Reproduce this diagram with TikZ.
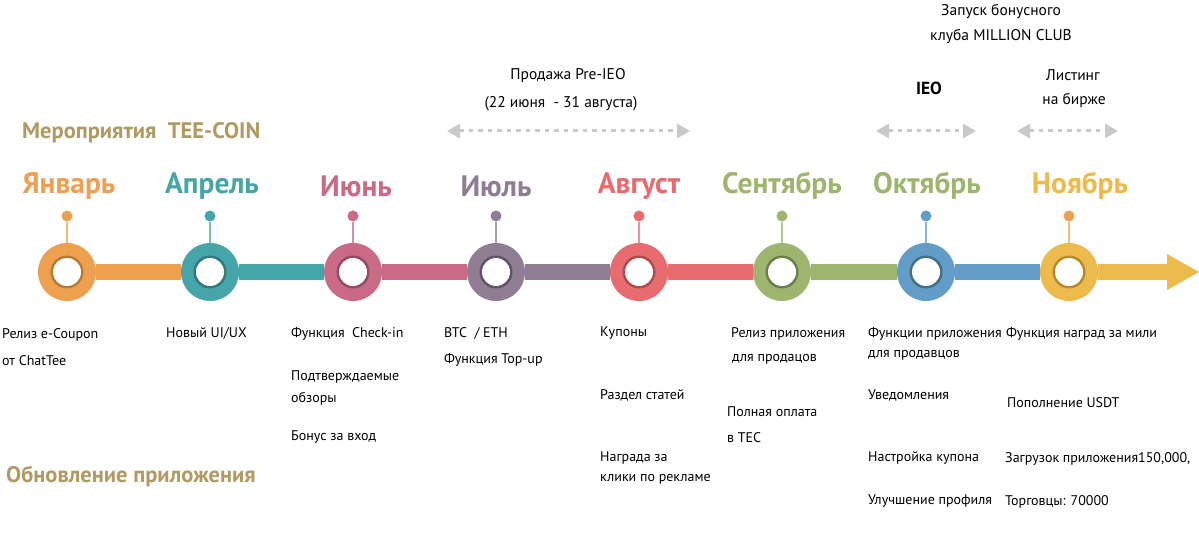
\documentclass[tikz,border=0pt]{standalone}
\usepackage{fontspec}
\setmainfont{PT Sans}
\usetikzlibrary{arrows.meta}
\definecolor{cJan}{HTML}{EDA050}\definecolor{dJan}{HTML}{B87A34}
\definecolor{cApr}{HTML}{45A5A9}\definecolor{dApr}{HTML}{2F7A7E}
\definecolor{cJun}{HTML}{C96A87}\definecolor{dJun}{HTML}{934A62}
\definecolor{cJul}{HTML}{8E7D93}\definecolor{dJul}{HTML}{62536A}
\definecolor{cAug}{HTML}{E86C6F}\definecolor{dAug}{HTML}{AD4A4D}
\definecolor{cSep}{HTML}{9DB56E}\definecolor{dSep}{HTML}{6C7F48}
\definecolor{cOct}{HTML}{629DC7}\definecolor{dOct}{HTML}{3F6F84}
\definecolor{cNov}{HTML}{EDBA4C}\definecolor{dNov}{HTML}{B88A2C}
\definecolor{gold}{HTML}{B19A62}
\definecolor{lgray}{HTML}{C9C9C9}
\tikzset{
  ring/.style 2 args={circle, fill=#1, minimum size=58pt, inner sep=0pt,
    path picture={\fill[#2] (path picture bounding box.center) circle (16.5pt);
                  \fill[white] (path picture bounding box.center) circle (14pt);}},
  pin/.style={circle, fill=#1, minimum size=11pt, inner sep=0pt},
  stem/.style={draw=#1!75!white, line width=1.6pt},
  seg/.style={draw=#1, line width=16pt},
  month/.style={font=\fontsize{29.5}{32}\selectfont\bfseries, text=#1, inner sep=0pt, yshift=-2pt},
  head/.style={font=\fontsize{22.5}{24}\selectfont\bfseries, text=gold, anchor=west, inner sep=0pt, yshift=-2.5pt},
  txt/.style={font=\fontsize{14}{16}\selectfont, anchor=west, inner sep=0pt, yshift=-1.5pt},
  ctxt/.style={font=\fontsize{15.5}{17}\selectfont, inner sep=0pt, yshift=-1.5pt},
  span/.style={draw=lgray, line width=3pt, dash pattern=on 4.5pt off 5pt,
    {Triangle[length=13pt,width=14pt,fill=lgray]}-{Triangle[length=13pt,width=14pt,fill=lgray]}},
}
\begin{document}
\begin{tikzpicture}[x=1pt,y=-1pt]
\useasboundingbox[fill=white] (0,0) rectangle (1199,553);
% rings
\node[ring={cJan}{dJan}] (r1) at (67,272) {};
\node[ring={cApr}{dApr}] (r2) at (210,272) {};
\node[ring={cJun}{dJun}] (r3) at (353,272) {};
\node[ring={cJul}{dJul}] (r4) at (496,272) {};
\node[ring={cAug}{dAug}] (r5) at (639,272) {};
\node[ring={cSep}{dSep}] (r6) at (782,272) {};
\node[ring={cOct}{dOct}] (r7) at (926,272) {};
\node[ring={cNov}{dNov}] (r8) at (1069,272) {};
\coordinate (aend) at (1170,272);
\coordinate (atip) at (1199,272);
% segments
\draw[seg=cJan] (r1) -- (r2);
\draw[seg=cApr] (r2) -- (r3);
\draw[seg=cJun] (r3) -- (r4);
\draw[seg=cJul] (r4) -- (r5);
\draw[seg=cAug] (r5) -- (r6);
\draw[seg=cSep] (r6) -- (r7);
\draw[seg=cOct] (r7) -- (r8);
\draw[seg=cNov] (r8) -- (aend);
\fill[cNov] (1167,254) -- (atip) -- (1167,290) -- cycle;
% pins
\foreach \i/\x/\c in {1/67/cJan,2/210/cApr,3/353/cJun,4/496/cJul,5/639/cAug,6/782/cSep,7/926/cOct,8/1069/cJan}{
  \node[pin=\c] (p\i) at (\x,216) {};
  \draw[stem=\c] (p\i) -- (r\i);
}
% months
\node[month=cJan] (m1) at (69,184) {Январь};
\node[month=cApr] (m2) at (212,184) {Апрель};
\node[month=cJun] (m3) at (356,184) {Июнь};
\node[month=cJul] (m4) at (496,184) {Июль};
\node[month=cAug] (m5) at (639,184) {Август};
\node[month=cSep] (m6) at (782,184) {Сентябрь};
\node[month=cSep] (m7) at (927,184) {Октябрь};
\node[month=cNov] (m8) at (1080,184) {Ноябрь};
% headings
\node[head] (h1) at (22,130) {Мероприятия\ \ TEE-COIN};
\node[head] (h2) at (6,474) {Обновление приложения};
% top events
\node[ctxt] (t1) at (568,74) {Продажа Pre-IEO};
\node[ctxt] (t2) at (561,102) {(22 июня\ \ - 31 августа)};
\coordinate (s1a) at (447,131); \coordinate (s1b) at (690,131);
\draw[span] (s1a) -- (s1b);
\node[ctxt] (t3) at (1001,10) {Запуск бонусного};
\node[ctxt] (t4) at (1001,35) {клуба MILLION CLUB};
\node[ctxt, font=\fontsize{17.5}{19}\selectfont\bfseries] (t5) at (929,87) {IEO};
\node[ctxt] (t6) at (1073,74) {Листинг};
\node[ctxt] (t7) at (1074,99) {на бирже};
\coordinate (s2a) at (876,131); \coordinate (s2b) at (976,131);
\draw[span] (s2a) -- (s2b);
\coordinate (s3a) at (1017,131); \coordinate (s3b) at (1118,131);
\draw[span] (s3a) -- (s3b);
% details
\node[txt] (a1) at (2,333) {Релиз e-Coupon};
\node[txt] (a2) at (2,359) {от ChatTee};
\node[txt] (b1) at (166,332) {Новый UI/UX};
\node[txt] (c1) at (291,332) {Функция\ \ Check-in};
\node[txt] (c2) at (291,375) {Подтверждаемые};
\node[txt] (c3) at (291,397) {обзоры};
\node[txt] (c4) at (291,436) {Бонус за вход};
\node[txt] (d1) at (444,332) {BTC\ \ / ETH};
\node[txt] (d2) at (444,358) {Функция Top-up};
\node[txt] (e1) at (600,332) {Купоны};
\node[txt] (e2) at (600,394) {Раздел статей};
\node[txt] (e3) at (600,456) {Награда за};
\node[txt] (e4) at (600,478) {клики по рекламе};
\node[txt] (f1) at (731,332) {Релиз приложения};
\node[txt] (f2) at (732,358) {для продацов};
\node[txt] (f3) at (727,410) {Полная оплата};
\node[txt] (f4) at (727,436) {в TEC};
\node[txt] (g1) at (868,332) {Функции приложения};
\node[txt] (g2) at (868,354) {для продавцов};
\node[txt] (g3) at (868,394) {Уведомления};
\node[txt] (g4) at (868,457) {Настройка купона};
\node[txt] (g5) at (868,500) {Улучшение профиля};
\node[txt] (k1) at (1006,332) {Функция наград за мили};
\node[txt] (k2) at (1007,401) {Пополнение USDT};
\node[txt] (k3) at (1005,457) {Загрузок приложения150,000,};
\node[txt] (k4) at (1005,500) {Торговцы: 70000};
\end{tikzpicture}
\end{document}
